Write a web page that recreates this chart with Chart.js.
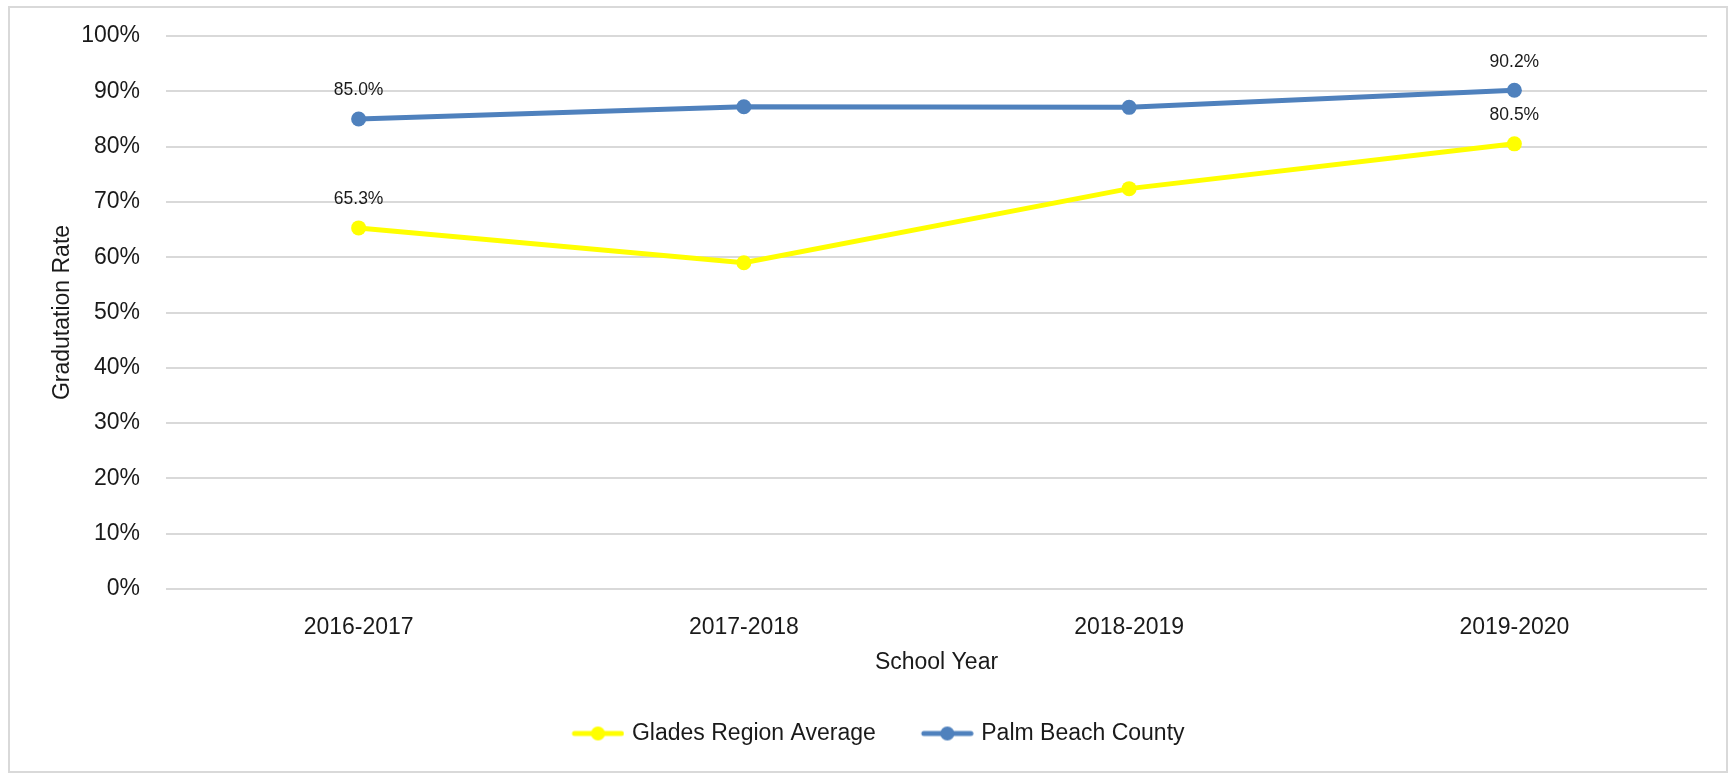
<!DOCTYPE html>
<html>
<head>
<meta charset="utf-8">
<script src="https://cdn.jsdelivr.net/npm/chart.js@4/dist/chart.umd.min.js"></script>
<style>
	body { margin: 0; background: #fff; }
	#frame { position: absolute; left: 8px; top: 6px; width: 1716px; height: 763px; border: 2px solid #d9d9d9; }
</style>
</head>
<body>
<div id="frame"><canvas id="grad_chart"></canvas></div>
<script>
var years = ['2016-2017', '2017-2018', '2018-2019', '2019-2020'];

var glades_data = [65.3, 59.0, 72.4, 80.5];
var palm_data = [85.0, 87.2, 87.1, 90.2];

var series_labels = ['Glades Region Average', 'Palm Beach County'];
var series_colours = ['#ffff00', '#4f81bd'];

// only first and last points carry a value label
var labelled = [0, 3];

var y_ticks = [0, 10, 20, 30, 40, 50, 60, 70, 80, 90, 100];

var textColour = '#1a1a1a';
var fontName = '"Liberation Sans", Arial, sans-serif';

// legend sample: short line with a dot, like the spreadsheet legend
// (drawn a bit right of centre so it sits closer to the text)
function makeMark(colour)
{
	var c = document.createElement('canvas');
	c.width = 60;
	c.height = 16;
	var ctx = c.getContext('2d');
	ctx.strokeStyle = colour;
	ctx.lineWidth = 5;
	ctx.lineCap = 'round';
	ctx.beginPath();
	ctx.moveTo(10, 8);
	ctx.lineTo(57, 8);
	ctx.stroke();
	ctx.fillStyle = colour;
	ctx.beginPath();
	ctx.arc(33.5, 8, 7, 0, Math.PI * 2);
	ctx.fill();
	return c;
}

var legendMarks = series_colours.map(makeMark);

var valueLabels = {
	id: 'valueLabels',
	afterDatasetsDraw: function(chart)
	{
		var ctx = chart.ctx;
		ctx.save();
		ctx.font = '17.5px ' + fontName;
		ctx.fillStyle = textColour;
		ctx.textAlign = 'center';
		ctx.textBaseline = 'middle';
		chart.data.datasets.forEach(function(ds, i)
		{
			var meta = chart.getDatasetMeta(i);
			labelled.forEach(function(idx)
			{
				var pt = meta.data[idx];
				ctx.fillText(ds.data[idx].toFixed(1) + '%', pt.x, pt.y - 28.5);
			});
		});
		ctx.restore();
	}
};

Chart.defaults.font.family = fontName;
Chart.defaults.font.size = 23;
Chart.defaults.color = textColour;

var gradChart = new Chart(document.getElementById('grad_chart').getContext('2d'), {
	type: 'line',
	plugins: [valueLabels],
	data: {
		labels: years,
		datasets: [{
			label: series_labels[0],
			data: glades_data,
			borderColor: series_colours[0],
			backgroundColor: series_colours[0],
			borderWidth: 5,
			pointRadius: 7.5,
			pointHoverRadius: 7.5,
			pointBorderWidth: 0,
			tension: 0
		}, {
			label: series_labels[1],
			data: palm_data,
			borderColor: series_colours[1],
			backgroundColor: series_colours[1],
			borderWidth: 5,
			pointRadius: 7.5,
			pointHoverRadius: 7.5,
			pointBorderWidth: 0,
			tension: 0
		}]
	},
	options: {
		responsive: true,
		maintainAspectRatio: false,
		animation: false,
		layout: { padding: { top: 28, right: 19, bottom: 16, left: 36 } },
		plugins: {
			tooltip: { enabled: false },
			legend: {
				position: 'bottom',
				labels: {
					usePointStyle: true,
					pointStyleWidth: 52,
					padding: 42,
					font: { size: 23 },
					color: textColour,
					generateLabels: function(chart)
					{
						var items = Chart.defaults.plugins.legend.labels.generateLabels(chart);
						items.forEach(function(item, i) { item.pointStyle = legendMarks[i]; });
						return items;
					}
				}
			}
		},
		scales: {
			x: {
				offset: true,
				grid: { display: false },
				border: { display: false },
				ticks: { padding: 16.5, font: { size: 23 }, color: textColour, maxRotation: 0 },
				title: { display: true, text: 'School Year', font: { size: 23 }, color: textColour, padding: { top: 0, bottom: 4 } },
				afterFit: function(scale) { scale.height = 91; }
			},
			y: {
				min: 0,
				max: 100,
				grid: { color: '#d9d9d9', lineWidth: 2, drawTicks: false },
				border: { display: false },
				afterBuildTicks: function(scale) { scale.ticks = y_ticks.map(function(v) { return { value: v }; }); },
				ticks: {
					padding: 26,
					font: { size: 23 },
					color: textColour,
					callback: function(v) { return v + '%'; }
				},
				title: { display: true, text: 'Gradutation Rate', font: { size: 23 }, color: textColour, padding: { top: 3, bottom: 0 } },
				afterFit: function(scale)
				{
					scale.width = 120;
					// tick padding would otherwise push the plot top down
					scale.paddingTop = 0;
					scale.paddingBottom = 0;
				}
			}
		}
	}
});
</script>
</body>
</html>
